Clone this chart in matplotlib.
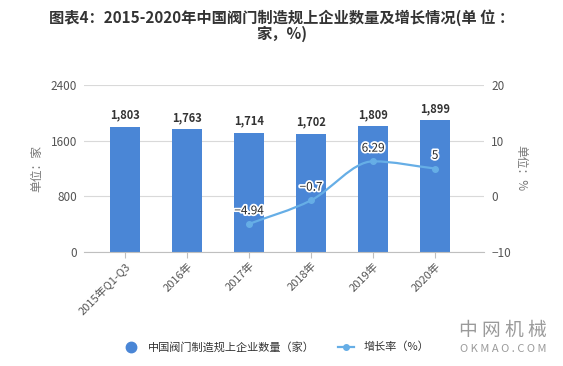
import numpy as np
import matplotlib
matplotlib.use("Agg")
import matplotlib.pyplot as plt
import matplotlib.patheffects as pe
from matplotlib.path import Path
from matplotlib.patches import PathPatch
from matplotlib.lines import Line2D

plt.rcParams['font.family'] = ['Noto Sans CJK SC', 'DejaVu Sans']

# data
categories = ['2015年Q1-Q3', '2016年', '2017年', '2018年', '2019年', '2020年']
counts = [1803, 1763, 1714, 1702, 1809, 1899]
growth_idx = [2, 3, 4, 5]
growth = [-4.94, -0.7, 6.29, 5]

bar_color = '#4a86d6'
line_color = '#66aee6'

fig = plt.figure(figsize=(5.63, 3.66), dpi=100)
ax = fig.add_axes([0.149, 0.311, 0.711, 0.457])
ax2 = ax.twinx()

x = np.arange(len(categories))
ax.bar(x, counts, width=0.48, color=bar_color, zorder=2)
for xi, v in zip(x, counts):
    ax.text(xi, v + 70, f'{v:,}', ha='center', va='bottom', fontsize=8,
            fontweight='bold', color='#333333')

ax.set_xlim(-0.66, 5.79)
ax.set_ylim(0, 2400)
ax.set_yticks([0, 800, 1600, 2400])
ax.grid(axis='y', color='#d9d9d9', linewidth=0.8, zorder=0)
ax.set_axisbelow(True)
ax2.set_ylim(-10, 20)
ax2.set_yticks([-10, 0, 10, 20])

for a in (ax, ax2):
    for s in a.spines.values():
        s.set_visible(False)
    a.tick_params(length=0, labelsize=8.5, colors='#555555')
ax.spines['bottom'].set_visible(True)
ax.spines['bottom'].set_color('#bfbfbf')
ax.tick_params(axis='x', length=4, color='#bfbfbf', pad=2)
ax.set_xticks(x)
ax.set_xticklabels(categories, rotation=45, ha='right', rotation_mode='anchor',
                   fontsize=8, color='#555555')
ax.tick_params(axis='y', pad=5)
ax2.tick_params(axis='y', pad=5)

ax.set_ylabel('单位：家', fontsize=8.5, color='#777777', labelpad=5)
ax2.set_ylabel('单位：%', fontsize=8.5, color='#777777', rotation=-90, labelpad=12)

# smooth growth curve (monotone cubic drawn as bezier path)
gx = np.array(growth_idx, dtype=float)
gy = np.array(growth, dtype=float)
sec = np.diff(gy) / np.diff(gx)
m = np.zeros_like(gy)
m[0], m[-1] = sec[0], sec[-1]
for i in range(1, len(gy) - 1):
    m[i] = 0 if sec[i - 1] * sec[i] <= 0 else (sec[i - 1] + sec[i]) / 2
verts = [(gx[0], gy[0])]
codes = [Path.MOVETO]
for i in range(len(gx) - 1):
    h = gx[i + 1] - gx[i]
    verts += [(gx[i] + h / 3, gy[i] + m[i] * h / 3),
              (gx[i + 1] - h / 3, gy[i + 1] - m[i + 1] * h / 3),
              (gx[i + 1], gy[i + 1])]
    codes += [Path.CURVE4] * 3
ax2.add_patch(PathPatch(Path(verts, codes), fill=False, edgecolor=line_color,
                        linewidth=1.6, zorder=3))
ax2.plot(gx, gy, 'o', color=line_color, markersize=4, zorder=4)
for xi, v in zip(gx, gy):
    ax2.text(xi, v + 1.2, f'{v:g}'.replace('-', '\u2212'), ha='center', va='bottom',
             fontsize=8.5, color='#2b2b2b', zorder=5,
             path_effects=[pe.withStroke(linewidth=2.5, foreground='white')])

fig.text(0.5, 0.975, '图表4：2015-2020年中国阀门制造规上企业数量及增长情况(单 位 ：\n家，%)',
         ha='center', va='top', fontsize=11, fontweight='bold', color='#333333',
         linespacing=1.0)

handles = [Line2D([], [], marker='o', linestyle='none', color=bar_color, markersize=7.5),
           Line2D([], [], marker='o', color=line_color, markersize=4, linewidth=1.6)]
fig.legend(handles, ['中国阀门制造规上企业数量（家）', '增长率（%）'], loc='center',
           bbox_to_anchor=(0.49, 0.052), ncol=2, frameon=False, fontsize=8,
           handlelength=1.5, columnspacing=2.0, labelcolor='#333333')

fig.text(0.893, 0.098, '中 网 机 械', ha='center', va='center', fontsize=13.5,
         color='#9a9a9a')
fig.text(0.893, 0.046, 'O K M A O . C O M', ha='center', va='center', fontsize=8,
         color='#9a9a9a')

fig.savefig('out.png', dpi=100, facecolor='white')
